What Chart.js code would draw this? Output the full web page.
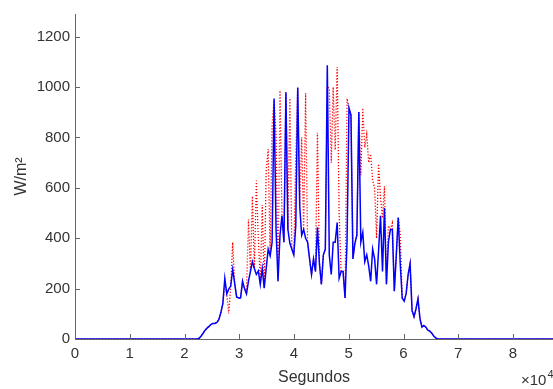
<!DOCTYPE html>
<html lang="es">
<head>
  <meta charset="UTF-8">
  <title>Irradiancia - Segundos</title>
  <script src="https://cdn.jsdelivr.net/npm/chart.js"></script>
  <style>
    html, body {
      margin: 0;
      padding: 0;
      background-color: #fff;
    }
    canvas {
      display: block;
    }
  </style>
</head>
<body>
  <canvas id="irrChart" width="553" height="389"></canvas>

  <script>
    // eje x: segundos del dia, muestras cada 6 min durante las horas de sol
    const tStart = 22320;
    const tStep = 360;
    const tEnd = 87300;
    const xTicks = [0, 10000, 20000, 30000, 40000, 50000, 60000, 70000, 80000];
    const yTicks = [0, 200, 400, 600, 800, 1000, 1200];

    // serie azul (linea continua), W/m2
    const medida = [
      0, 3, 12, 23, 35, 43, 50, 58, 62, 62,
      66, 78, 105, 140, 241, 179, 198, 210, 276, 221,
      167, 163, 163, 229, 200, 179, 230, 268, 307, 280,
      256, 270, 217, 280, 202, 280, 357, 330, 384, 955,
      435, 229, 412, 489, 384, 979, 435, 380, 357, 334,
      450, 998, 528, 412, 435, 400, 384, 318, 256, 318,
      268, 443, 300, 217, 334, 357, 1087, 334, 256, 384,
      384, 462, 241, 268, 268, 163, 384, 917, 889, 318,
      380, 412, 901, 384, 423, 307, 334, 290, 229, 357,
      318, 217, 350, 489, 268, 520, 217, 384, 435, 435,
      190, 334, 482, 299, 163, 150, 180, 256, 299, 113,
      89, 120, 159, 82, 47, 54, 47, 35, 31, 23,
      12, 4, 0
    ];

    // serie roja (linea punteada), W/m2
    const modelo = [
      0, 3, 12, 23, 35, 43, 50, 58, 62, 62,
      66, 78, 105, 140, 220, 179, 101, 210, 384, 221,
      167, 163, 163, 229, 200, 179, 474, 268, 567, 280,
      629, 400, 217, 532, 202, 668, 753, 330, 850, 948,
      812, 229, 986, 489, 384, 979, 435, 955, 357, 334,
      722, 998, 528, 800, 435, 975, 384, 318, 256, 318,
      268, 819, 300, 217, 334, 357, 1000, 995, 700, 1000,
      750, 1080, 500, 268, 268, 163, 955, 917, 889, 318,
      380, 412, 901, 650, 917, 760, 812, 700, 734, 629,
      600, 400, 695, 560, 480, 606, 217, 450, 435, 460,
      190, 334, 482, 416, 163, 150, 180, 256, 299, 113,
      89, 120, 159, 82, 47, 54, 47, 35, 31, 23,
      12, 4, 0
    ];

    function toPoints(values) {
      const pts = [{ x: 0, y: 0 }];
      values.forEach((v, i) => pts.push({ x: tStart + i * tStep, y: v }));
      pts.push({ x: tEnd, y: 0 });
      return pts;
    }

    const axisFont = { family: "'Liberation Sans', Arial, sans-serif", size: 15 };
    const textColor = "#333";
    const axisColor = "#666";

    // marcas de graduacion hacia dentro (estilo MATLAB)
    const inwardTicks = {
      id: "inwardTicks",
      afterDatasetsDraw(chart) {
        const { ctx, chartArea, scales } = chart;
        ctx.save();
        ctx.strokeStyle = axisColor;
        ctx.lineWidth = 1;
        ctx.beginPath();
        scales.x.ticks.forEach(t => {
          const px = Math.round(scales.x.getPixelForValue(t.value)) + 0.5;
          ctx.moveTo(px, chartArea.bottom);
          ctx.lineTo(px, chartArea.bottom - 5);
        });
        scales.y.ticks.forEach(t => {
          const py = Math.round(scales.y.getPixelForValue(t.value)) + 0.5;
          ctx.moveTo(chartArea.left, py);
          ctx.lineTo(chartArea.left + 5, py);
        });
        ctx.stroke();
        ctx.restore();
      }
    };

    // multiplicador del eje x
    const xExponent = {
      id: "xExponent",
      afterDraw(chart) {
        const { ctx } = chart;
        ctx.save();
        ctx.fillStyle = textColor;
        ctx.textBaseline = "alphabetic";
        ctx.font = "15px 'Liberation Sans', Arial, sans-serif";
        ctx.fillText("\u00d710", 521, 385);
        const w = ctx.measureText("\u00d710").width;
        ctx.font = "11px 'Liberation Sans', Arial, sans-serif";
        ctx.fillText("4", 521 + w + 1, 378);
        ctx.restore();
      }
    };

    new Chart(document.getElementById("irrChart"), {
      type: "line",
      data: {
        datasets: [
          {
            label: "medida",
            data: toPoints(medida),
            borderColor: "#0000ff",
            borderWidth: 1.5,
            pointRadius: 0,
            tension: 0,
            order: 0
          },
          {
            label: "modelo",
            data: toPoints(modelo),
            borderColor: "#ff0000",
            borderWidth: 1.3,
            borderDash: [1.2, 1.8],
            pointRadius: 0,
            tension: 0,
            order: 1
          }
        ]
      },
      options: {
        responsive: false,
        animation: false,
        layout: { padding: { top: 7, right: 0, bottom: 0, left: 0 } },
        plugins: {
          legend: { display: false },
          tooltip: { enabled: false }
        },
        scales: {
          x: {
            type: "linear",
            min: 0,
            max: tEnd,
            afterBuildTicks: s => { s.ticks = xTicks.map(v => ({ value: v })); },
            afterFit: s => { s.height = 50; },
            ticks: {
              font: axisFont,
              color: textColor,
              padding: 6,
              maxRotation: 0,
              autoSkip: false,
              callback: v => String(v / 10000)
            },
            grid: { display: false, drawTicks: false },
            border: { display: true, color: axisColor, width: 1 },
            title: {
              display: true,
              text: "Segundos",
              color: textColor,
              font: { family: axisFont.family, size: 16 },
              padding: { top: 0, bottom: 2 }
            }
          },
          y: {
            min: 0,
            max: 1290,
            afterBuildTicks: s => { s.ticks = yTicks.map(v => ({ value: v })); },
            afterFit: s => { s.width = 75; },
            ticks: {
              font: axisFont,
              color: textColor,
              padding: 5,
              callback: v => String(v)
            },
            grid: { display: false, drawTicks: false },
            border: { display: true, color: axisColor, width: 1 },
            title: {
              display: true,
              text: "W/m\u00b2",
              color: textColor,
              font: { family: axisFont.family, size: 16 },
              padding: { top: 12, bottom: 0 }
            }
          }
        }
      },
      plugins: [inwardTicks, xExponent]
    });
  </script>
</body>
</html>
